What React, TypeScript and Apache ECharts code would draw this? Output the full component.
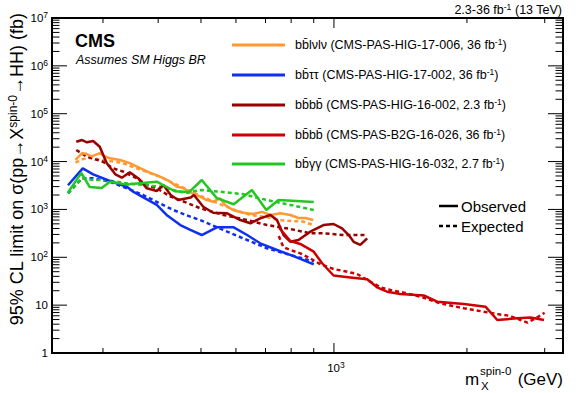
import React, { useEffect, useRef } from 'react';
import * as echarts from 'echarts';

const FONT = '"Liberation Sans", Arial, Helvetica, sans-serif';

const X_MIN = 230;
const X_MAX = 3300;
const Y_MIN = 1;
const Y_MAX = 1e7;

// x tick values (GeV)
const X_MINOR_TICKS = [300, 400, 500, 600, 700, 800, 900, 2000, 3000];
const X_MAJOR_TICKS = [1000];
const X_TICK_LABELS = [{ value: 1000, base: '10', exp: '3' }];

// bb lv lv (CMS-PAS-HIG-17-006)
const bblvlvObserved = [
  [260, 10800], [269, 15000], [275, 14500], [283, 12800], [295, 15000], [303, 12800], [311, 11700],
  [328, 10800], [345, 9300], [364, 7300], [384, 5800], [404, 4850], [426, 3800], [440, 3000],
  [455, 2800], [477, 2200], [498, 1850], [515, 1570], [533, 1450], [553, 1700], [567, 1240],
  [591, 973], [623, 850], [657, 800], [687, 890], [718, 765], [756, 830], [797, 765], [830, 662],
  [861, 662], [898, 600],
];
const bblvlvExpected = [
  [260, 9500], [270, 11300], [283, 12000], [295, 11000], [330, 9500], [364, 6800], [400, 5000],
  [450, 3000], [500, 1900], [550, 1300], [600, 950], [650, 760], [700, 700], [750, 600],
  [800, 570], [850, 560], [900, 470],
];

// bb tau tau (CMS-PAS-HIG-17-002)
const bbttObserved = [
  [250, 3200], [270, 7200], [285, 5420], [311, 3930], [340, 2980], [351, 2350], [397, 1240],
  [418, 765], [449, 472], [473, 372], [502, 292], [543, 423], [593, 423], [636, 292], [681, 196],
  [743, 142], [810, 106], [900, 71],
];
const bbttExpected = [
  [250, 2170], [269, 4470], [285, 4470], [311, 3800], [340, 2760], [370, 2000], [403, 1340],
  [433, 973], [473, 705], [498, 601], [562, 372], [636, 230], [705, 154], [797, 112], [900, 81],
];

// bbbb (CMS-PAS-HIG-16-002, 2.3 fb-1)
const bbbb16Observed = [
  [261, 26000], [269, 28200], [276, 25300], [285, 26900], [295, 20400], [306, 9200], [320, 5420],
  [331, 4600], [345, 5970], [361, 4450], [377, 2760], [397, 2430], [411, 3240], [427, 2000],
  [444, 1570], [474, 1770], [482, 2000], [506, 1140], [533, 854], [573, 830], [614, 601],
  [647, 513], [681, 652], [718, 765], [743, 601], [769, 292], [797, 211], [831, 230], [884, 342],
  [947, 472], [998, 496], [1043, 403], [1080, 292], [1108, 211], [1147, 181], [1189, 249],
];
const bbbb16Expected = [
  [261, 17400], [276, 12600], [285, 11500], [300, 9930], [316, 7230], [334, 6140], [358, 4450],
  [377, 3240], [397, 2760], [427, 1850], [468, 1340], [498, 1056], [562, 765], [636, 601],
  [705, 472], [797, 390], [884, 317], [947, 317], [1052, 292], [1189, 292],
];

// bbbb (CMS-PAS-B2G-16-026, 36 fb-1)
const bbbb26Observed = [
  [752, 409], [797, 219], [839, 190], [900, 131], [940, 75], [998, 41.6], [1089, 38], [1189, 34.7],
  [1252, 23.6], [1319, 19.1], [1414, 17.1], [1597, 15.9], [1713, 11.8], [1969, 10.6], [2203, 9.3],
  [2343, 4.9], [2601, 5.3], [2787, 5.5], [2989, 4.9],
];
const bbbb26Expected = [
  [750, 279], [768, 164], [797, 142], [839, 121], [884, 95], [923, 75], [965, 63.5], [998, 56.9],
  [1052, 51.6], [1128, 44.8], [1209, 30.9], [1274, 23.6], [1343, 20.7], [1439, 18.2], [1570, 15.0],
  [1743, 10.9], [1968, 8.6], [2147, 7.5], [2343, 6.5], [2494, 6.0], [2646, 4.9], [2740, 4.3],
  [2898, 5.7], [2998, 6.95],
];

// bb gamma gamma (CMS-PAS-HIG-16-032)
const bbggObserved = [
  [250, 2260], [268, 5800], [280, 2940], [298, 2800], [311, 3800], [340, 3300], [358, 3500],
  [397, 3800], [436, 2400], [470, 2300], [502, 4120], [543, 1720], [593, 1280], [652, 2550],
  [703, 973], [749, 1570], [900, 1430],
];
const bbggExpected = [
  [250, 2170], [269, 4470], [285, 4120], [305, 4120], [340, 3510], [370, 3240], [403, 2980],
  [433, 2550], [462, 2200], [500, 2550], [550, 2350], [620, 2100], [705, 1570], [797, 1240],
  [900, 973],
];

const CHANNELS = [
  { key: 'bblvlv', label: 'bb\u0304l\u03BDl\u03BD (CMS-PAS-HIG-17-006, 36 fb{sup|-1})', color: '#ff9933', obs: bblvlvObserved, exp: bblvlvExpected },
  { key: 'bbtt', label: 'bb\u0304\u03C4\u03C4 (CMS-PAS-HIG-17-002, 36 fb{sup|-1})', color: '#1030f0', obs: bbttObserved, exp: bbttExpected },
  { key: 'bbbb16', label: 'bb\u0304bb\u0304 (CMS-PAS-HIG-16-002, 2.3 fb{sup|-1})', color: '#990000', obs: bbbb16Observed, exp: bbbb16Expected },
  { key: 'bbbb26', label: 'bb\u0304bb\u0304 (CMS-PAS-B2G-16-026, 36 fb{sup|-1})', color: '#cc0000', obs: bbbb26Observed, exp: bbbb26Expected },
  { key: 'bbgg', label: 'bb\u0304\u03B3\u03B3 (CMS-PAS-HIG-16-032, 2.7 fb{sup|-1})', color: '#22c722', obs: bbggObserved, exp: bbggExpected },
];

const DASH = [4, 3];

export default function App() {
  const ref = useRef<HTMLDivElement>(null);

  useEffect(() => {
    if (!ref.current) return;
    const chart = echarts.init(ref.current, null, { renderer: 'svg' });

    const series: any[] = [];
    CHANNELS.forEach((c) => {
      series.push({
        name: c.key + ' expected',
        type: 'line',
        data: c.exp,
        showSymbol: false,
        symbol: 'none',
        lineStyle: { color: c.color, width: 2.5, type: DASH },
        z: 2,
      });
      series.push({
        name: c.key + ' observed',
        type: 'line',
        data: c.obs,
        showSymbol: false,
        symbol: 'none',
        lineStyle: { color: c.color, width: 2.5, type: 'solid' },
        z: 3,
      });
    });

    const supRich = (size: number) => ({
      sup: { fontSize: size, fontFamily: FONT, color: '#000', padding: [0, 0, Math.round(size * 0.75), 0] },
    });

    chart.setOption({
      animation: false,
      grid: {
        left: 52,
        right: 17,
        top: 18,
        bottom: 40,
        show: true,
        borderColor: '#000',
        borderWidth: 2,
        backgroundColor: 'transparent',
      },
      xAxis: {
        type: 'log',
        logBase: 10,
        min: X_MIN,
        max: X_MAX,
        axisLine: { show: false },
        axisTick: { show: false },
        axisLabel: { show: false },
        splitLine: { show: false },
      },
      yAxis: {
        type: 'log',
        logBase: 10,
        min: Y_MIN,
        max: Y_MAX,
        axisLine: { show: false },
        axisTick: { show: false },
        splitLine: { show: false },
        axisLabel: {
          margin: 4,
          fontSize: 11.5,
          fontFamily: FONT,
          color: '#000',
          formatter: (v: number) => {
            const e = Math.round(Math.log10(v));
            if (e === 0) return '1';
            if (e === 1) return '10';
            return '10{sup|' + e + '}';
          },
          rich: supRich(8.5),
        },
      },
      series,
    });

    const toPx = (x: number, y: number) =>
      chart.convertToPixel({ gridIndex: 0 }, [x, y]) as unknown as number[];

    const [gx0, gy1] = toPx(X_MIN, Y_MIN);
    const [gx1, gy0] = toPx(X_MAX, Y_MAX);

    const g: any[] = [];
    const tick = (x1: number, y1: number, x2: number, y2: number) =>
      g.push({
        type: 'line',
        silent: true,
        shape: { x1, y1, x2, y2 },
        style: { stroke: '#000', lineWidth: 1 },
        z: 10,
      });

    // y ticks (left and right)
    for (let d = 0; d <= 7; d++) {
      const base = Math.pow(10, d);
      const py = toPx(X_MIN, base)[1];
      tick(gx0, py, gx0 + 15, py);
      tick(gx1 - 15, py, gx1, py);
      if (d < 7) {
        for (let k = 2; k <= 9; k++) {
          const pm = toPx(X_MIN, k * base)[1];
          tick(gx0, pm, gx0 + 7.5, pm);
          tick(gx1 - 7.5, pm, gx1, pm);
        }
      }
    }
    // x ticks (bottom and top)
    X_MINOR_TICKS.forEach((v) => {
      const px = toPx(v, Y_MIN)[0];
      tick(px, gy1, px, gy1 - 5);
      tick(px, gy0, px, gy0 + 5);
    });
    X_MAJOR_TICKS.forEach((v) => {
      const px = toPx(v, Y_MIN)[0];
      tick(px, gy1, px, gy1 - 10);
      tick(px, gy0, px, gy0 + 10);
    });
    X_TICK_LABELS.forEach((t) => {
      const px = toPx(t.value, Y_MIN)[0];
      g.push({
        type: 'text',
        x: px + 2,
        y: gy1 + 15,
        silent: true,
        style: {
          text: t.base + '{sup|' + t.exp + '}',
          fill: '#000',
          fontSize: 11.5,
          fontFamily: FONT,
          align: 'center',
          verticalAlign: 'middle',
          rich: supRich(8.5),
        },
      });
    });

    const txt = (x: number, y: number, text: string, size: number, extra: any = {}) =>
      g.push({
        type: 'text',
        x,
        y,
        silent: true,
        rotation: extra.rotation || 0,
        style: {
          text,
          fill: '#000',
          fontSize: size,
          fontFamily: FONT,
          fontWeight: extra.fontWeight || 'normal',
          fontStyle: extra.fontStyle || 'normal',
          align: extra.align || 'left',
          verticalAlign: 'middle',
          rich: supRich(extra.supSize || Math.round(size * 0.68)),
        },
      });

    // CMS labels
    txt(75, 41, 'CMS', 18, { fontWeight: 'bold' });
    txt(76, 60, 'Assumes SM Higgs BR', 12.5, { fontStyle: 'italic' });
    txt(562, 10, '2.3-36 fb{sup|-1} (13 TeV)', 12.5, { align: 'right', supSize: 8.5 });

    // axis titles
    txt(17, 13, '95% CL limit on \u03C3(pp\u2192X{sup|spin-0}\u2192HH) (fb)', 18, {
      align: 'right',
      rotation: Math.PI / 2,
      supSize: 12,
    });
    txt(465, 379, 'm', 17);
    txt(480, 371, 'spin-0', 11.5);
    txt(481, 386, 'X', 11.5);
    txt(563, 379, '(GeV)', 17, { align: 'right' });

    // channel legend
    const legendY = [45, 75, 105, 135, 164];
    CHANNELS.forEach((c, i) => {
      g.push({
        type: 'line',
        silent: true,
        shape: { x1: 232, y1: legendY[i], x2: 285, y2: legendY[i] },
        style: { stroke: c.color, lineWidth: 3 },
      });
      txt(295, legendY[i], c.label, 12.5, { supSize: 8.5 });
    });

    // observed / expected legend
    g.push({
      type: 'line',
      silent: true,
      shape: { x1: 439, y1: 206, x2: 458, y2: 206 },
      style: { stroke: '#000', lineWidth: 2.5 },
    });
    txt(461, 206, 'Observed', 15);
    g.push({
      type: 'line',
      silent: true,
      shape: { x1: 439, y1: 226, x2: 458, y2: 226 },
      style: { stroke: '#000', lineWidth: 2.5, lineDash: DASH },
    });
    txt(461, 226, 'Expected', 15);

    chart.setOption({ graphic: g });

    return () => chart.dispose();
  }, []);

  return (
    <div
      ref={ref}
      style={{ position: 'fixed', left: 0, top: 0, width: 580, height: 393, background: '#fff' }}
    />
  );
}
